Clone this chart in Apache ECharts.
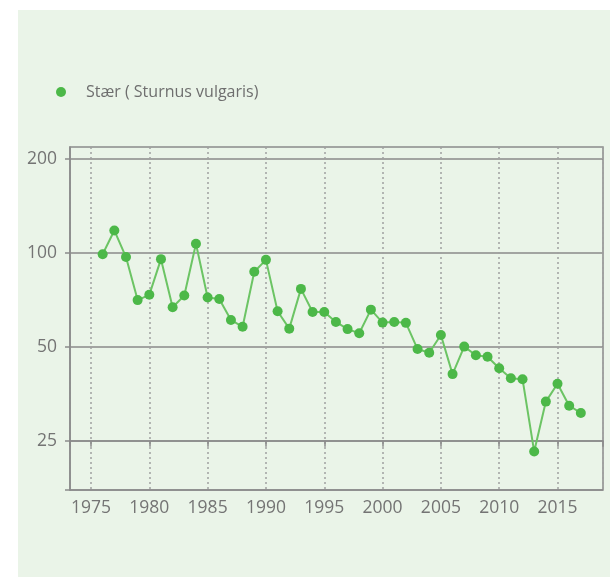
<!DOCTYPE html>
<html>
<head>
<meta charset="utf-8">
<script src="https://cdn.jsdelivr.net/npm/echarts@6/dist/echarts.min.js"></script>
<style>html,body{margin:0;padding:0;background:#fff;}#c{width:610px;height:577px;}</style>
</head>
<body>
<div id="c"></div>
<script>
const seriesName = 'Stær ( Sturnus vulgaris)';
const years = [1976,1977,1978,1979,1980,1981,1982,1983,1984,1985,1986,1987,1988,1989,1990,1991,1992,1993,1994,1995,1996,1997,1998,1999,2000,2001,2002,2003,2004,2005,2006,2007,2008,2009,2010,2011,2012,2013,2014,2015,2016,2017];
const values = [99,118,97,70.6,73.4,95.5,67,73,107,72,71.2,61,58,87,95,65,57.2,76.7,64.7,64.7,60.1,57,55.3,65.8,59.8,60.1,59.7,49.2,47.9,54.6,40.9,50.1,47,46.5,42.7,39.7,39.4,23.1,33.4,38.1,32.4,30.7];
const yTickValues = [25, 50, 100, 200];
const xTickLabels = [1975,1980,1985,1990,1995,2000,2005,2010,2015];

const base = 25;
const toAxis = v => Math.log2(v / base);
const fromAxis = a => Math.round(base * Math.pow(2, a));
const xMin = 1973.2, xMax = 2018.9;
const yMin = toAxis(17.4), yMax = toAxis(218.4);

const chart = echarts.init(document.getElementById('c'), null, {renderer: 'canvas'});
const font = '"Open Sans", "DejaVu Sans", sans-serif';
const gray = '#8a8a8a';
const yTickAxisVals = yTickValues.map(toAxis);
chart.setOption({
  backgroundColor: '#ffffff',
  animation: false,
  graphic: [{
    type: 'rect', left: 18, top: 10, z: -10,
    shape: {width: 592, height: 567},
    style: {fill: '#eaf4e8'}
  }],
  legend: {
    left: 51, top: 79,
    icon: 'circle', itemWidth: 40, itemHeight: 10,
    textStyle: {color: '#6e6e6e', fontSize: 16, fontFamily: font},
    data: [seriesName]
  },
  grid: {
    left: 70, right: 7, top: 147, bottom: 87,
    show: true, borderColor: gray, borderWidth: 1.5, backgroundColor: 'transparent'
  },
  xAxis: {
    type: 'value', min: xMin, max: xMax,
    axisLine: {show: true, lineStyle: {color: gray, width: 1.5}},
    axisTick: {show: true, length: 6, customValues: [xMin].concat(xTickLabels, [xMax]), lineStyle: {color: gray, width: 1.5}},
    axisLabel: {
      customValues: xTickLabels, margin: 9,
      color: '#747474', fontSize: 17.5, fontFamily: font,
      formatter: v => String(Math.round(v))
    },
    splitLine: {show: true, lineStyle: {color: '#a0a0a0', type: [2, 3], width: 1.5}}
  },
  yAxis: {
    type: 'value', min: yMin, max: yMax,
    axisLine: {show: true, lineStyle: {color: gray, width: 1.5}},
    axisTick: {show: true, length: 5, customValues: [yMin].concat(yTickAxisVals), lineStyle: {color: gray, width: 1.5}},
    axisLabel: {
      customValues: yTickAxisVals, margin: 13,
      color: '#747474', fontSize: 17.5, fontFamily: font,
      formatter: v => String(fromAxis(v))
    },
    splitLine: {show: true, lineStyle: {color: gray, width: 1.5}}
  },
  series: [{
    name: seriesName,
    type: 'line',
    data: years.map((y, i) => [y, toAxis(values[i])]),
    symbol: 'circle', symbolSize: 10,
    itemStyle: {color: '#4cb848'},
    lineStyle: {color: '#6cc464', width: 2}
  }]
});
</script>
</body>
</html>
